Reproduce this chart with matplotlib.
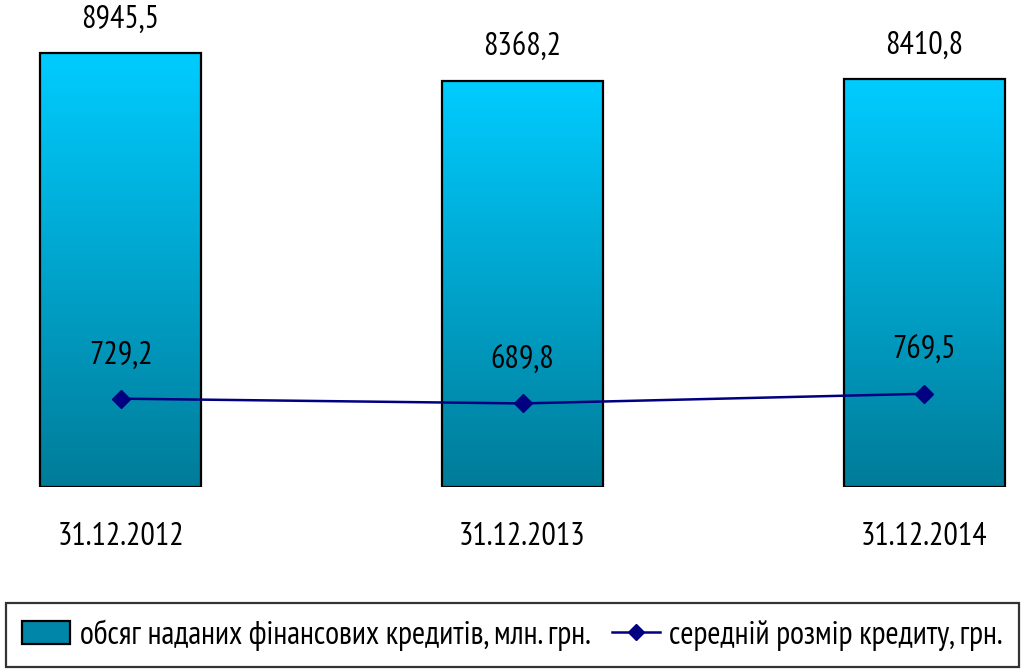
import numpy as np
import matplotlib
matplotlib.use('Agg')
import matplotlib.pyplot as plt
from matplotlib.colors import LinearSegmentedColormap
from matplotlib.patches import Patch
from matplotlib.lines import Line2D

plt.rcParams['font.family'] = ['PT Sans Narrow', 'Roboto Condensed', 'Liberation Sans', 'DejaVu Sans']

# data
dates = ['31.12.2012', '31.12.2013', '31.12.2014']
volume = [8945.5, 8368.2, 8410.8]          # млн. грн.
avg_size = [729.2, 689.8, 769.5]           # грн.
volume_labels = ['8945,5', '8368,2', '8410,8']
avg_labels = ['729,2', '689,8', '769,5']
legend_bar = 'обсяг наданих фінансових кредитів, млн. грн.'
legend_line = 'середній розмір кредиту, грн.'

fs = 23
fig = plt.figure(figsize=(10.33, 6.70), dpi=100)
ax = fig.add_axes([0.0, 0.273, 1.0, 0.724])
ax2 = ax.twinx()

x = np.arange(len(dates))
width = 0.4
cmap = LinearSegmentedColormap.from_list('bar', ['#007c99', '#00ccff'])
grad = np.linspace(0, 1, 256).reshape(-1, 1)

bars = ax.bar(x, volume, width, facecolor='none', edgecolor='black', linewidth=1.6, zorder=3)
for b in bars:
    x0, w, h = b.get_x(), b.get_width(), b.get_height()
    im = ax.imshow(grad, extent=[x0, x0 + w, 0, h], origin='lower', aspect='auto',
                   cmap=cmap, zorder=2)
    im.set_clip_path(b)

for xi, v, lab in zip(x, volume, volume_labels):
    ax.annotate(lab, (xi, v), xytext=(0, 33), textcoords='offset pixels',
                ha='center', va='center', fontsize=fs)

ax.set_xlim(-0.3, 2.27)
ax.set_ylim(0, 10000)
ax.set_xticks(x)
ax.set_xticklabels(dates, fontsize=fs)
ax.tick_params(axis='x', length=0, pad=25)
ax.set_yticks([])
for s in ax.spines.values():
    s.set_visible(False)

ax2.plot(x, avg_size, color='#000080', linewidth=1.8, marker='D', markersize=9, zorder=5)
for xi, v, lab in zip(x, avg_size, avg_labels):
    ax2.annotate(lab, (xi, v), xytext=(0, 43), textcoords='offset pixels',
                 ha='center', va='center', fontsize=fs)
ax2.set_ylim(0, 4000)
ax2.set_yticks([])
for s in ax2.spines.values():
    s.set_visible(False)

handles = [Patch(facecolor='#0086a8', edgecolor='black', linewidth=1.6),
           Line2D([], [], color='#000080', linewidth=1.8, marker='D', markersize=8)]
leg = fig.legend(handles, [legend_bar, legend_line], loc='center left',
                 bbox_to_anchor=(0.006, 0.0525), ncol=2, fontsize=23, frameon=True,
                 fancybox=False, borderpad=0.5, handlelength=1.5, handletextpad=0.3,
                 columnspacing=0.66, borderaxespad=0)
leg.get_frame().set_edgecolor('black')
leg.get_frame().set_linewidth(1.6)

fig.savefig('out.png', dpi=100)
